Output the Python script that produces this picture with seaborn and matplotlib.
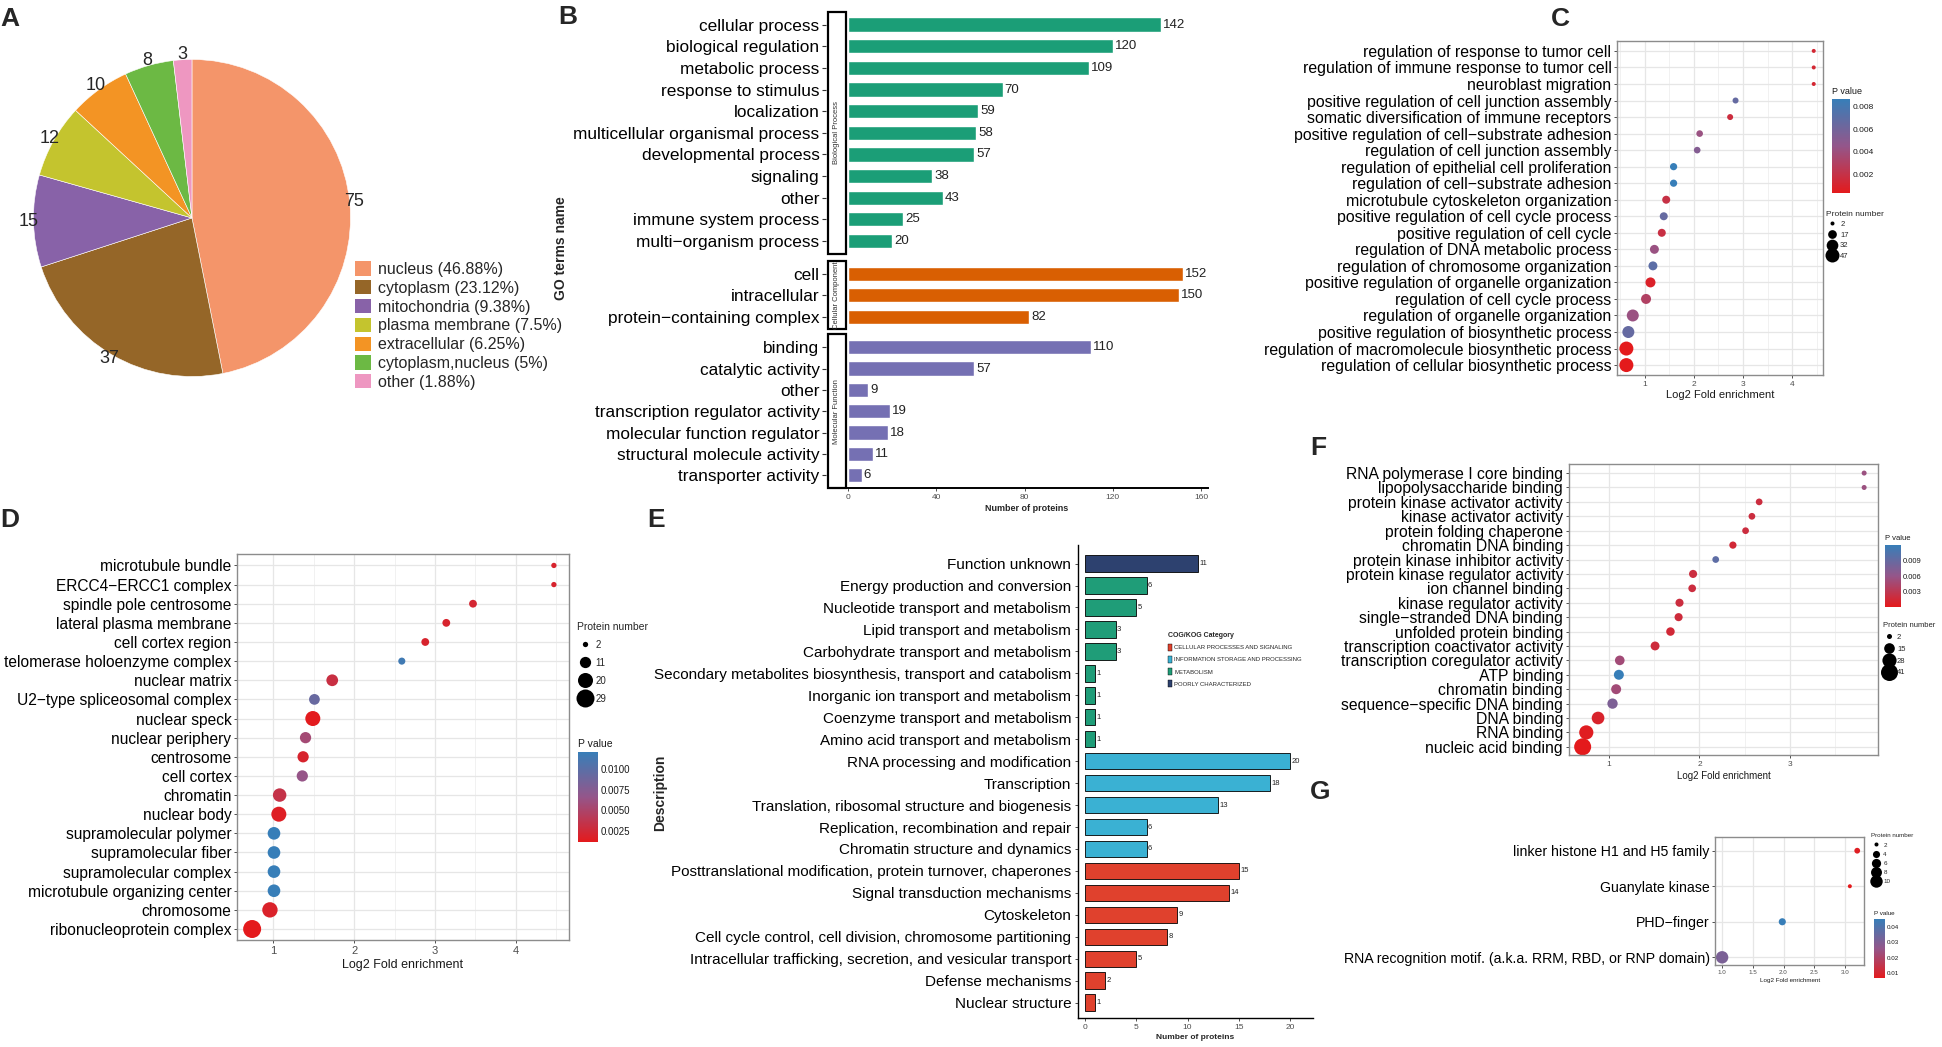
import numpy as np
import pandas as pd
import matplotlib
matplotlib.use("Agg")
import matplotlib as mpl
import matplotlib.pyplot as plt
import seaborn as sns
from matplotlib.patches import Rectangle, Patch
from matplotlib.lines import Line2D
from matplotlib.colors import LinearSegmentedColormap, Normalize
from matplotlib.ticker import MultipleLocator

# ---------------- data ----------------
# A: subcellular localisation
pie_labels = ["nucleus", "cytoplasm", "mitochondria", "plasma membrane",
              "extracellular", "cytoplasm,nucleus", "other"]
pie_values = [75, 37, 15, 12, 10, 8, 3]
pie_pct = ["46.88%", "23.12%", "9.38%", "7.5%", "6.25%", "5%", "1.88%"]

# B: GO classification
bp_terms = ["cellular process", "biological regulation", "metabolic process",
            "response to stimulus", "localization", "multicellular organismal process",
            "developmental process", "signaling", "other", "immune system process",
            "multi\u2212organism process"]
bp_counts = [142, 120, 109, 70, 59, 58, 57, 38, 43, 25, 20]
cc_terms = ["cell", "intracellular", "protein\u2212containing complex"]
cc_counts = [152, 150, 82]
mf_terms = ["binding", "catalytic activity", "other", "transcription regulator activity",
            "molecular function regulator", "structural molecule activity",
            "transporter activity"]
mf_counts = [110, 57, 9, 19, 18, 11, 6]

# C: GO biological process enrichment
c_terms = ["regulation of response to tumor cell",
           "regulation of immune response to tumor cell",
           "neuroblast migration",
           "positive regulation of cell junction assembly",
           "somatic diversification of immune receptors",
           "positive regulation of cell\u2212substrate adhesion",
           "regulation of cell junction assembly",
           "regulation of epithelial cell proliferation",
           "regulation of cell\u2212substrate adhesion",
           "microtubule cytoskeleton organization",
           "positive regulation of cell cycle process",
           "positive regulation of cell cycle",
           "regulation of DNA metabolic process",
           "regulation of chromosome organization",
           "positive regulation of organelle organization",
           "regulation of cell cycle process",
           "regulation of organelle organization",
           "positive regulation of biosynthetic process",
           "regulation of macromolecule biosynthetic process",
           "regulation of cellular biosynthetic process"]
c_fold = [4.44, 4.44, 4.44, 2.85, 2.74, 2.12, 2.07, 1.59, 1.59, 1.44,
          1.39, 1.35, 1.20, 1.17, 1.12, 1.03, 0.76, 0.67, 0.63, 0.63]
c_p = [0.0012, 0.0012, 0.0012, 0.0066, 0.0016, 0.0042, 0.0052, 0.0087, 0.0087, 0.0019,
       0.0066, 0.0018, 0.0042, 0.0070, 0.0008, 0.0030, 0.0042, 0.0066, 0.0003, 0.0003]
c_n = [2, 2, 2, 7, 7, 9, 9, 11, 11, 14, 14, 14, 18, 18, 23, 23, 34, 34, 47, 47]

# D: GO cellular component enrichment
d_terms = ["microtubule bundle", "ERCC4\u2212ERCC1 complex", "spindle pole centrosome",
           "lateral plasma membrane", "cell cortex region", "telomerase holoenzyme complex",
           "nuclear matrix", "U2\u2212type spliceosomal complex", "nuclear speck",
           "nuclear periphery", "centrosome", "cell cortex", "chromatin", "nuclear body",
           "supramolecular polymer", "supramolecular fiber", "supramolecular complex",
           "microtubule organizing center", "chromosome", "ribonucleoprotein complex"]
d_fold = [4.47, 4.47, 3.47, 3.14, 2.88, 2.59, 1.73, 1.51, 1.49, 1.40,
          1.37, 1.36, 1.08, 1.07, 1.01, 1.01, 1.01, 1.01, 0.96, 0.74]
d_p = [0.0020, 0.0020, 0.0022, 0.0020, 0.0020, 0.0115, 0.0030, 0.0092, 0.0012, 0.0055,
       0.0020, 0.0065, 0.0033, 0.0015, 0.0121, 0.0121, 0.0121, 0.0121, 0.0018, 0.0011]
d_n = [2, 2, 5, 5, 5, 4, 12, 10, 20, 11, 11, 11, 16, 20, 14, 14, 14, 14, 21, 29]

# E: COG/KOG classification
cog_terms = ["Function unknown", "Energy production and conversion",
             "Nucleotide transport and metabolism", "Lipid transport and metabolism",
             "Carbohydrate transport and metabolism",
             "Secondary metabolites biosynthesis, transport and catabolism",
             "Inorganic ion transport and metabolism", "Coenzyme transport and metabolism",
             "Amino acid transport and metabolism", "RNA processing and modification",
             "Transcription", "Translation, ribosomal structure and biogenesis",
             "Replication, recombination and repair", "Chromatin structure and dynamics",
             "Posttranslational modification, protein turnover, chaperones",
             "Signal transduction mechanisms", "Cytoskeleton",
             "Cell cycle control, cell division, chromosome partitioning",
             "Intracellular trafficking, secretion, and vesicular transport",
             "Defense mechanisms", "Nuclear structure"]
cog_counts = [11, 6, 5, 3, 3, 1, 1, 1, 1, 20, 18, 13, 6, 6, 15, 14, 9, 8, 5, 2, 1]
cog_cats = ["POORLY CHARACTERIZED"] + ["METABOLISM"] * 8 + \
           ["INFORMATION STORAGE AND PROCESSING"] * 5 + \
           ["CELLULAR PROCESSES AND SIGNALING"] * 7
cog_order = ["CELLULAR PROCESSES AND SIGNALING", "INFORMATION STORAGE AND PROCESSING",
             "METABOLISM", "POORLY CHARACTERIZED"]

# F: GO molecular function enrichment
f_terms = ["RNA polymerase I core binding", "lipopolysaccharide binding",
           "protein kinase activator activity", "kinase activator activity",
           "protein folding chaperone", "chromatin DNA binding",
           "protein kinase inhibitor activity", "protein kinase regulator activity",
           "ion channel binding", "kinase regulator activity",
           "single\u2212stranded DNA binding", "unfolded protein binding",
           "transcription coactivator activity", "transcription coregulator activity",
           "ATP binding", "chromatin binding", "sequence\u2212specific DNA binding",
           "DNA binding", "RNA binding", "nucleic acid binding"]
f_fold = [3.82, 3.82, 2.66, 2.58, 2.51, 2.37, 2.18, 1.93, 1.92, 1.78,
          1.77, 1.68, 1.51, 1.12, 1.11, 1.08, 1.04, 0.88, 0.75, 0.71]
f_p = [0.0055, 0.0055, 0.0020, 0.0020, 0.0020, 0.0015, 0.0095, 0.0020, 0.0020, 0.0020,
       0.0018, 0.0015, 0.0018, 0.0050, 0.0120, 0.0050, 0.0075, 0.0010, 0.0004, 0.0001]
f_n = [2, 2, 5, 5, 5, 6, 5, 8, 7, 8, 8, 9, 10, 12, 13, 13, 14, 22, 28, 41]

# G: protein domain enrichment
g_terms = ["linker histone H1 and H5 family", "Guanylate kinase", "PHD\u2212finger",
           "RNA recognition motif. (a.k.a. RRM, RBD, or RNP domain)"]
g_fold = [3.20, 3.08, 1.98, 1.00]
g_p = [0.0080, 0.0068, 0.0450, 0.0310]
g_n = [3, 2, 4, 10]

# ---------------- style ----------------
pie_colors = ["#F4956A", "#956628", "#8862A8", "#C4C42E", "#F39424", "#6CB944", "#EE97C1"]
go_colors = ["#1B9E77", "#D95F02", "#7570B3"]
cog_palette = {"CELLULAR PROCESSES AND SIGNALING": "#E0412D",
               "INFORMATION STORAGE AND PROCESSING": "#3AB1D3",
               "METABOLISM": "#1F9D78",
               "POORLY CHARACTERIZED": "#2D416F"}
cmap = LinearSegmentedColormap.from_list("pv", ["#E41A1C", "#94568A", "#377EB8"])

sns.set_style("white")
plt.rcParams["font.family"] = ["Liberation Sans", "DejaVu Sans"]
plt.rcParams["axes.unicode_minus"] = True

fig = plt.figure(figsize=(19.42, 10.47), dpi=100)
DW, DH = 1568.0, 845.4


def box(x0, y0, x1, y1):
    return [x0 / DW, 1 - y1 / DH, (x1 - x0) / DW, (y1 - y0) / DH]


def fx(x):
    return x / DW


def fy(y):
    return 1 - y / DH


# ---------------- A: pie ----------------
axA = fig.add_axes(box(27, 47, 283, 305))
wedges, _ = axA.pie(pie_values, colors=pie_colors, startangle=90, counterclock=False,
                    wedgeprops=dict(edgecolor="white", linewidth=0.4))
for w, v in zip(wedges, pie_values):
    ang = np.deg2rad((w.theta1 + w.theta2) / 2)
    axA.text(1.03 * np.cos(ang), 1.03 * np.sin(ang), str(v), ha="center", va="center",
             fontsize=13)
axA.set_xlim(-1, 1)
axA.set_ylim(-1, 1)
axA.set_aspect("equal")
fig.legend([Patch(facecolor=c, edgecolor="none") for c in pie_colors],
           [f"{n} ({p})" for n, p in zip(pie_labels, pie_pct)],
           loc="upper left", bbox_to_anchor=(fx(287), fy(211)), frameon=False,
           fontsize=11.5, handlelength=1.0, handleheight=1.0, handletextpad=0.4,
           labelspacing=0.2, borderpad=0, borderaxespad=0)

# ---------------- B: GO bars ----------------
facets = [("Biological Process", bp_terms, bp_counts, go_colors[0], (683, 9.4, 975, 205)),
          ("Cellular Component", cc_terms, cc_counts, go_colors[1], (683, 211, 975, 266)),
          ("Molecular Function", mf_terms, mf_counts, go_colors[2], (683, 270, 975, 394))]
for i, (name, terms, counts, col, bx) in enumerate(facets):
    ax = fig.add_axes(box(*bx))
    df = pd.DataFrame({"term": terms, "count": counts})
    sns.barplot(data=df, y="term", x="count", color=col, width=0.66, saturation=1,
                errorbar=None, orient="h", ax=ax)
    n = len(terms)
    ax.set_xlim(-1.1, 163)
    ax.set_ylim(n - 0.4, -0.6)
    for c in ax.containers:
        ax.bar_label(c, padding=1.5, fontsize=9.5, color="#222222")
    for s in ["top", "right"]:
        ax.spines[s].set_visible(False)
    ax.spines["left"].set_position(("outward", 14))
    ax.spines["left"].set_visible(False)
    ax.tick_params(axis="y", left=True, length=3, width=0.8, color="#333333",
                   labelsize=12.4, pad=2, labelcolor="black")
    ax.add_patch(Rectangle((-0.0497, 0), 0.0497, 1, transform=ax.transAxes, fill=False,
                           lw=1.6, ec="black", clip_on=False))
    ax.text(-0.0249, 0.5, name, transform=ax.transAxes, rotation=90, ha="center",
            va="center", fontsize=5.5, color="#333333")
    ax.set_ylabel("")
    ax.set_xlabel("")
    if i < 2:
        ax.spines["bottom"].set_visible(False)
        ax.set_xticks([])
    else:
        ax.spines["bottom"].set_color("black")
        ax.spines["bottom"].set_linewidth(1.4)
        ax.set_xticks([0, 40, 80, 120, 160])
        ax.tick_params(axis="x", bottom=True, length=2.5, width=0.6, color="#333333",
                       labelsize=6, labelcolor="#4D4D4D", pad=2)
        ax.set_xlabel("Number of proteins", fontsize=6.5, fontweight="bold", labelpad=2)
fig.text(fx(453), fy(200), "GO terms name", rotation=90, ha="center", va="center",
         fontsize=10, fontweight="bold")


# ---------------- dot plot helpers ----------------
def dotplot(bx, terms, fold, pv, num, srange, ylfs, xtfs, xlfs, xticks, ylim=None,
            xtlabels=None):
    ax = fig.add_axes(box(*bx))
    df = pd.DataFrame({"term": terms, "fold": fold, "p": pv, "n": num})
    pn = (min(pv), max(pv))
    sn = (min(num), max(num))
    sns.scatterplot(data=df, x="fold", y="term", hue="p", hue_norm=pn, palette=cmap,
                    size="n", sizes=srange, size_norm=sn, legend=False, linewidth=0,
                    ax=ax)
    lo, hi = min(fold), max(fold)
    pad = 0.05 * (hi - lo)
    ax.set_xlim(lo - pad, hi + pad)
    n = len(terms)
    if ylim is None:
        ax.set_ylim(n - 0.4, -0.6)
    else:
        ax.set_ylim(*ylim)
    ax.set_xticks(xticks)
    if xtlabels is not None:
        ax.set_xticklabels(xtlabels)
    ax.xaxis.set_minor_locator(MultipleLocator(0.5))
    ax.set_axisbelow(True)
    ax.grid(True, which="major", color="#E6E6E6", lw=0.9)
    ax.grid(True, which="minor", axis="x", color="#EFEFEF", lw=0.6)
    for s in ax.spines.values():
        s.set_visible(True)
        s.set_color("#8C8C8C")
        s.set_linewidth(1.0)
    ax.tick_params(axis="both", which="major", direction="out", length=2.5, width=0.6,
                   color="#333333", left=True, bottom=True)
    ax.tick_params(which="minor", length=0)
    ax.tick_params(axis="y", labelsize=ylfs, labelcolor="black", pad=1.5)
    ax.tick_params(axis="x", labelsize=xtfs, labelcolor="#4D4D4D", pad=1.5)
    ax.set_ylabel("")
    ax.set_xlabel("Log2 Fold enrichment", fontsize=xlfs, color="#1A1A1A", labelpad=2)
    return ax, pn, sn


def pbar(cb_box, pn, ticks, labels, fs, tfs):
    cax = fig.add_axes(box(*cb_box))
    cb = mpl.colorbar.ColorbarBase(cax, cmap=cmap, norm=Normalize(*pn),
                                   orientation="vertical")
    cb.outline.set_visible(False)
    cb.set_ticks(ticks)
    cb.set_ticklabels(labels)
    w = (cb_box[2] - cb_box[0]) * 1942 / DW / 1.389
    cax.tick_params(axis="y", direction="in", length=w * 0.22, width=0.7, color="white",
                    labelsize=fs, pad=1.5, left=True, right=True, labelleft=False,
                    labelright=True, labelcolor="#1A1A1A")
    fig.text(fx(cb_box[0]), fy(cb_box[1] - 2.5), "P value", fontsize=tfs, ha="left",
             va="bottom", color="#1A1A1A")


def slegend(sn, srange, vals, anchor, fs, tfs, spacing):
    smin, smax = srange

    def sz(v):
        return smin + (smax - smin) * (v - sn[0]) / (sn[1] - sn[0])

    hs = [Line2D([], [], ls="none", marker="o", markersize=np.sqrt(sz(v)),
                 markerfacecolor="black", markeredgecolor="none") for v in vals]
    fig.legend(hs, [str(v) for v in vals], title="Protein number", loc="upper left",
               bbox_to_anchor=(fx(anchor[0]), fy(anchor[1])), frameon=False,
               fontsize=fs, title_fontsize=tfs, labelspacing=spacing,
               handletextpad=0.3, borderpad=0, borderaxespad=0, alignment="left",
               handlelength=1.6)


# ---------------- C ----------------
srC = (8.3, 101.6)
axC, pnC, snC = dotplot((1305.6, 33.1, 1472, 302.8), c_terms, c_fold, c_p, c_n, srC,
                        11.4, 6, 8, [1, 2, 3, 4])
pbar((1479, 80, 1494, 156), pnC, [0.002, 0.004, 0.006, 0.008],
     ["0.002", "0.004", "0.006", "0.008"], 6, 6.5)
slegend(snC, srC, [2, 17, 32, 47], (1474, 170), 5.5, 6, 0.42)

# ---------------- D ----------------
srD = (14.6, 168)
axD, pnD, snD = dotplot((191.4, 447.3, 459.4, 759.4), d_terms, d_fold, d_p, d_n, srD,
                        11.2, 8, 9, [1, 2, 3, 4])
pbar((467, 607, 483, 680), pnD, [0.0025, 0.005, 0.0075, 0.01],
     ["0.0025", "0.0050", "0.0075", "0.0100"], 7, 7.5)
slegend(snD, srD, [2, 11, 20, 29], (466, 502), 7, 7.5, 0.82)

# ---------------- F ----------------
srF = (13, 150)
axF, pnF, snF = dotplot((1266.5, 375, 1516.5, 610), f_terms, f_fold, f_p, f_n, srF,
                        11.3, 6, 7, [1, 2, 3])
pbar((1522, 440, 1535, 490), pnF, [0.003, 0.006, 0.009], ["0.003", "0.006", "0.009"],
     5.5, 5.5)
slegend(snF, srF, [2, 15, 28, 41], (1520, 502), 5.5, 5.5, 0.6)

# ---------------- G ----------------
srG = (8.3, 80)
axG, pnG, snG = dotplot((1385, 676, 1505, 779), g_terms, g_fold, g_p, g_n, srG,
                        10.2, 4.5, 4.5, [1.0, 1.5, 2.0, 2.5, 3.0], ylim=(3.21, -0.38),
                        xtlabels=["1.0", "1.5", "2.0", "2.5", "3.0"])
pbar((1513, 742, 1522, 790), pnG, [0.01, 0.02, 0.03, 0.04],
     ["0.01", "0.02", "0.03", "0.04"], 4.5, 4.5)
slegend(snG, srG, [2, 4, 6, 8, 10], (1511, 673), 4.5, 4.5, 0.6)

# ---------------- E: COG bars ----------------
axE = fig.add_axes(box(870, 440, 1060, 822))
dfE = pd.DataFrame({"desc": cog_terms, "count": cog_counts, "cat": cog_cats})
sns.barplot(data=dfE, y="desc", x="count", hue="cat", palette=cog_palette, dodge=False,
            width=0.75, edgecolor="black", linewidth=0.6, saturation=1, errorbar=None,
            legend=False, orient="h", ax=axE)
axE.set_xlim(-0.72, 22.2)
axE.set_ylim(20.7, -0.85)
for c in axE.containers:
    axE.bar_label(c, padding=1, fontsize=5.5, color="#222222")
for s in ["top", "right"]:
    axE.spines[s].set_visible(False)
for s in ["left", "bottom"]:
    axE.spines[s].set_color("black")
    axE.spines[s].set_linewidth(1.0)
axE.set_xticks([0, 5, 10, 15, 20])
axE.tick_params(axis="y", left=True, length=2.5, width=0.6, color="#333333",
                labelsize=11, labelcolor="black", pad=2)
axE.tick_params(axis="x", bottom=True, length=2.5, width=0.6, color="#333333",
                labelsize=6, labelcolor="#4D4D4D", pad=2)
axE.set_ylabel("")
axE.set_xlabel("Number of proteins", fontsize=6, fontweight="bold", labelpad=2)
fig.text(fx(533), fy(640), "Description", rotation=90, ha="center", va="center",
         fontsize=10, fontweight="bold")
legE = fig.legend([Patch(facecolor=cog_palette[c], edgecolor="black", lw=0.3)
                   for c in cog_order], cog_order, title="COG/KOG Category",
                  loc="upper left", bbox_to_anchor=(fx(943), fy(510)), frameon=False,
                  fontsize=4.3, title_fontsize=5, handlelength=0.6, handleheight=1.4,
                  handletextpad=0.5, labelspacing=0.88, borderpad=0, borderaxespad=0,
                  alignment="left")
legE.get_title().set_fontweight("bold")

# ---------------- panel letters ----------------
for letter, (x, y) in {"A": (0, 6), "B": (451, 4), "C": (1252, 6), "D": (0, 410),
                       "E": (523, 410), "F": (1058, 352), "G": (1058, 630)}.items():
    fig.text(fx(x), fy(y), letter, fontsize=19, fontweight="bold", ha="left", va="top")

fig.savefig("out.png", dpi=100)
